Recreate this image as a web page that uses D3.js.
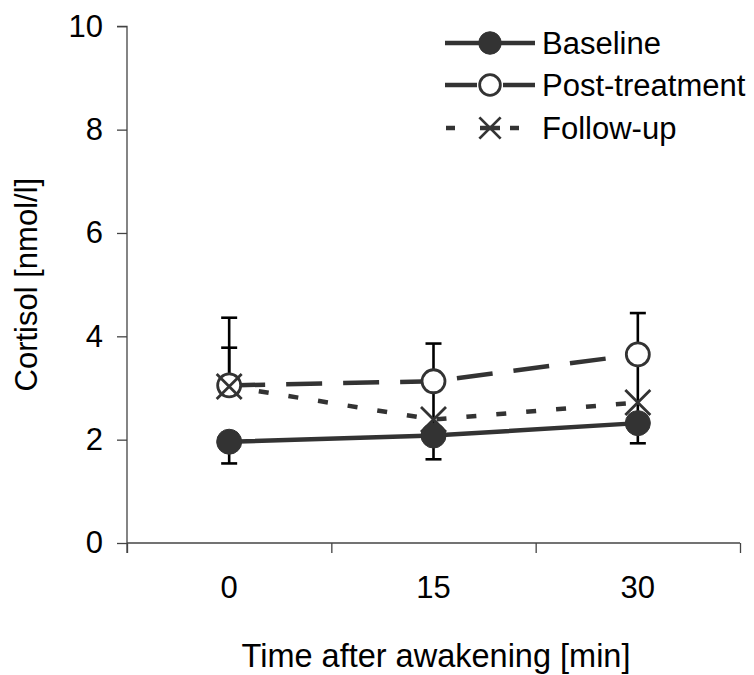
<!DOCTYPE html>
<html>
<head>
<meta charset="utf-8">
<script src="https://cdn.jsdelivr.net/npm/d3@7"></script>
<style>
  html, body { margin: 0; padding: 0; background: #fff; overflow: hidden; }
  svg { display: block; }
  text { font-family: "Liberation Sans", Arial, sans-serif; fill: #000; }
</style>
</head>
<body>
<svg id="chart" width="754" height="675"></svg>
<script>
// ---- data ----
const categories = ["0", "15", "30"];
const yTicks = [0, 2, 4, 6, 8, 10];
const seriesNames = ["Baseline", "Post-treatment", "Follow-up"];
const baseline = [1.96, 2.08, 2.32];
const postTreatment = [3.05, 3.13, 3.65];
const followUp = [3.03, 2.39, 2.72];
const baselineErrUp = [0, 0, 0];
const baselineErrDown = [0.42, 0.46, 0.39];
const postErrUp = [1.31, 0.73, 0.80];
const postErrDown = [0, 0, 0];
const followErrUp = [0.75, 0.72, 0.93];
const followErrDown = [0, 0.31, 0.40];
const xTitle = "Time after awakening [min]";
const yTitle = "Cortisol [nmol/l]";

// ---- layout ----
const svg = d3.select("#chart");
const plot = { left: 127, right: 740, top: 26.3, bottom: 543 };
const dark = "#333333";
const fs = 31;

const x = d3.scaleBand().domain(categories).range([plot.left, plot.right]).padding(0);
const xEdges = d3.scaleLinear().domain([0, categories.length]).range([plot.left, plot.right]);
const y = d3.scaleLinear().domain([0, 10]).range([plot.bottom, plot.top]);
const cx = c => x(c) + x.bandwidth() / 2;

// y axis
const yAxis = svg.append("g").attr("transform", `translate(${plot.left},0)`)
  .call(d3.axisLeft(y).tickValues(yTicks).tickSize(10).tickPadding(14).tickFormat(d3.format("d")));
yAxis.select(".domain").attr("stroke", "#444").attr("stroke-width", 1.3)
  .attr("d", `M-10,${plot.top}H0V${plot.bottom + 10}`);
yAxis.selectAll(".tick line").attr("stroke", "#444").attr("stroke-width", 1.3);
yAxis.selectAll(".tick text").attr("font-size", fs).attr("fill", "#000");

// x axis: tick marks at category edges
const xAxisTicks = svg.append("g").attr("transform", `translate(0,${plot.bottom})`)
  .call(d3.axisBottom(xEdges).tickValues(d3.range(categories.length + 1)).tickSize(10).tickFormat(""));
xAxisTicks.select(".domain").attr("stroke", "#444").attr("stroke-width", 1.3)
  .attr("d", `M${plot.left},0H${plot.right}`);
xAxisTicks.selectAll(".tick line").attr("stroke", "#444").attr("stroke-width", 1.3);
// x labels at category centers
const xAxisLabels = svg.append("g").attr("transform", `translate(0,${plot.bottom})`)
  .call(d3.axisBottom(x).tickSize(0).tickPadding(33));
xAxisLabels.select(".domain").remove();
xAxisLabels.selectAll(".tick text").attr("font-size", fs).attr("fill", "#000");

// axis titles
svg.append("text").attr("x", 436).attr("y", 667)
  .attr("text-anchor", "middle").attr("font-size", 32.5).text(xTitle);
svg.append("text").attr("transform", `translate(37,${(plot.top + plot.bottom) / 2}) rotate(-90)`)
  .attr("text-anchor", "middle").attr("font-size", fs).text(yTitle);

// series
const series = [
  { name: seriesNames[0], values: baseline, up: baselineErrUp, down: baselineErrDown, dash: null, marker: "filled" },
  { name: seriesNames[1], values: postTreatment, up: postErrUp, down: postErrDown, dash: "36,21", marker: "open" },
  { name: seriesNames[2], values: followUp, up: followErrUp, down: followErrDown, dash: "10,20", marker: "cross" }
];

// error bars first
const capW = 8;
series.forEach(s => {
  const g = svg.append("g").attr("stroke", "#000").attr("stroke-width", 2.6);
  categories.forEach((c, i) => {
    const v = s.values[i];
    if (s.up[i] > 0) {
      g.append("line").attr("x1", cx(c)).attr("x2", cx(c)).attr("y1", y(v)).attr("y2", y(v + s.up[i]));
      g.append("line").attr("x1", cx(c) - capW).attr("x2", cx(c) + capW).attr("y1", y(v + s.up[i])).attr("y2", y(v + s.up[i]));
    }
    if (s.down[i] > 0) {
      g.append("line").attr("x1", cx(c)).attr("x2", cx(c)).attr("y1", y(v)).attr("y2", y(v - s.down[i]));
      g.append("line").attr("x1", cx(c) - capW).attr("x2", cx(c) + capW).attr("y1", y(v - s.down[i])).attr("y2", y(v - s.down[i]));
    }
  });
});

// lines
const line = d3.line().x(d => cx(d.c)).y(d => y(d.v));
series.forEach(s => {
  const pts = categories.map((c, i) => ({ c, v: s.values[i] }));
  svg.append("path").attr("d", line(pts)).attr("fill", "none")
    .attr("stroke", dark).attr("stroke-width", 4.5)
    .attr("stroke-dasharray", s.dash);
});

// markers
function drawMarker(g, type, px, py, scale) {
  const k = scale || 1;
  if (type === "filled") {
    g.append("circle").attr("cx", px).attr("cy", py).attr("r", 12.5 * k)
      .attr("fill", dark).attr("stroke", dark).attr("stroke-width", 1);
  } else if (type === "open") {
    g.append("circle").attr("cx", px).attr("cy", py).attr("r", 11.5 * k)
      .attr("fill", "#fff").attr("stroke", dark).attr("stroke-width", 2.8);
  } else {
    const h = 12.5 * k;
    g.append("path").attr("d", `M${px - h},${py - h}L${px + h},${py + h}M${px - h},${py + h}L${px + h},${py - h}`)
      .attr("stroke", dark).attr("stroke-width", 2.8).attr("fill", "none");
  }
}
const markerOrder = [1, 2, 0];
markerOrder.forEach(si => {
  const s = series[si];
  const g = svg.append("g");
  categories.forEach((c, i) => drawMarker(g, s.marker, cx(c), y(s.values[i])));
});

// legend
const legend = svg.append("g");
const legendRows = [43, 85, 128];
series.forEach((s, i) => {
  const ly = legendRows[i];
  const row = legend.append("g");
  if (s.marker === "filled") {
    row.append("line").attr("x1", 445).attr("x2", 535).attr("y1", ly).attr("y2", ly)
      .attr("stroke", dark).attr("stroke-width", 4.5);
  } else if (s.marker === "open") {
    row.append("line").attr("x1", 445).attr("x2", 477).attr("y1", ly).attr("y2", ly)
      .attr("stroke", dark).attr("stroke-width", 4.5);
    row.append("line").attr("x1", 503).attr("x2", 535).attr("y1", ly).attr("y2", ly)
      .attr("stroke", dark).attr("stroke-width", 4.5);
  } else {
    row.append("line").attr("x1", 446).attr("x2", 455).attr("y1", ly).attr("y2", ly)
      .attr("stroke", dark).attr("stroke-width", 4.5);
    row.append("line").attr("x1", 480).attr("x2", 500).attr("y1", ly).attr("y2", ly)
      .attr("stroke", dark).attr("stroke-width", 4.5);
    row.append("line").attr("x1", 510).attr("x2", 519).attr("y1", ly).attr("y2", ly)
      .attr("stroke", dark).attr("stroke-width", 4.5);
  }
  drawMarker(row, s.marker, 490, ly, s.marker === "cross" ? 0.85 : 0.9);
  row.append("text").attr("x", 542).attr("y", ly).attr("dy", "0.36em")
    .attr("font-size", fs).text(s.name);
});
</script>
</body>
</html>
